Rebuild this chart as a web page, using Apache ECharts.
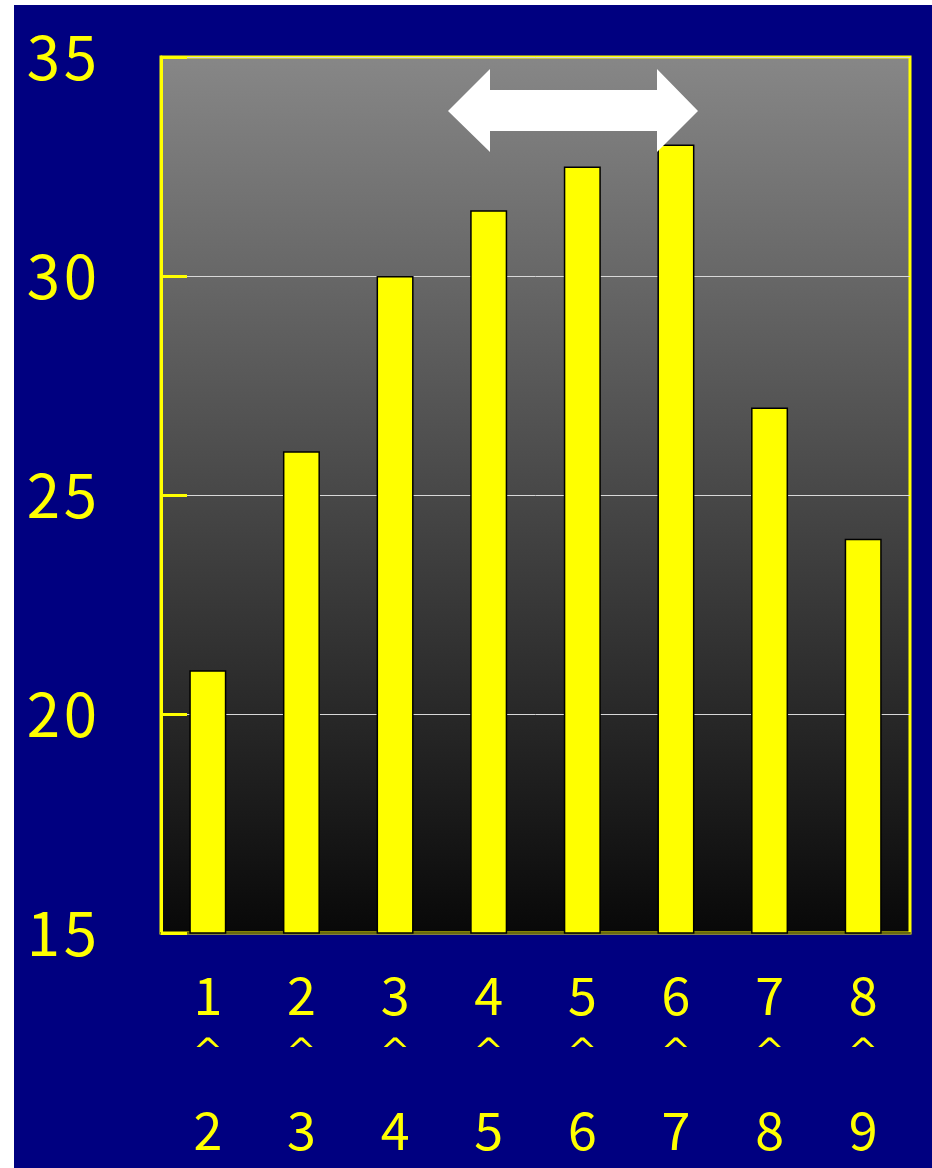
<!DOCTYPE html>
<html>
<head>
<meta charset="utf-8">
<script src="https://cdn.jsdelivr.net/npm/echarts@6/dist/echarts.min.js"></script>
<style>
  html, body { margin: 0; padding: 0; background: #ffffff; }
  #chart { position: absolute; left: 14px; top: 5px; width: 918px; height: 1163px; }
</style>
</head>
<body>
<div id="chart"></div>
<script>
// Period labels: each bar covers "from" ~ "to"
const rangeStart = ['1', '2', '3', '4', '5', '6', '7', '8'];
const rangeEnd = ['2', '3', '4', '5', '6', '7', '8', '9'];
const categories = rangeStart.map((s, i) => s + '|' + rangeEnd[i]);
const values = [21.0, 26.0, 30.0, 31.5, 32.5, 33.0, 27.0, 24.0];
const yTicks = [15, 20, 25, 30, 35];

const YELLOW = '#ffff00';
const FONT = '"Noto Sans CJK JP", "Noto Sans", sans-serif';

const chart = echarts.init(document.getElementById('chart'));

chart.setOption({
  backgroundColor: '#000080',
  animation: false,
  grid: {
    left: 147, right: 22, top: 52, bottom: 235,
    show: true,
    borderColor: YELLOW,
    borderWidth: 3,
    backgroundColor: new echarts.graphic.LinearGradient(0, 0, 0, 1, [
      { offset: 0, color: '#878787' },
      { offset: 1, color: '#080808' }
    ])
  },
  xAxis: {
    type: 'category',
    data: categories,
    boundaryGap: true,
    axisLine: { lineStyle: { color: '#6a6a10', width: 2 } },
    axisTick: { inside: true, length: 18, lineStyle: { color: '#1a1a1a', width: 1 } },
    axisLabel: {
      margin: 40,
      interval: 0,
      formatter: v => {
        const [a, b] = v.split('|');
        return '{n|' + a + '}\n{c|^}\n{n|' + b + '}';
      },
      rich: {
        n: { fontSize: 52, lineHeight: 45, color: YELLOW, fontFamily: FONT },
        c: { fontSize: 36, lineHeight: 90, color: YELLOW, fontFamily: '"DejaVu Sans", sans-serif', padding: [0, 0, 18, 0] }
      }
    }
  },
  yAxis: {
    type: 'value',
    min: yTicks[0],
    max: yTicks[yTicks.length - 1],
    interval: 5,
    axisLine: { show: true, lineStyle: { color: YELLOW, width: 3 } },
    axisTick: { show: true, inside: true, length: 26, lineStyle: { color: YELLOW, width: 3 } },
    splitLine: { show: true, lineStyle: { color: '#d8d8d8', width: 1 } },
    axisLabel: {
      margin: 64,
      color: YELLOW,
      fontSize: 60,
      fontFamily: FONT,
      padding: [22, 0, 0, 0],
      formatter: v => String(v).split('').join('\u200A')
    }
  },
  series: [{
    type: 'bar',
    data: values,
    barWidth: 37,
    itemStyle: { color: YELLOW, borderColor: '#000000', borderWidth: 1.5 }
  }],
  graphic: [{
    type: 'polygon',
    z: 100,
    shape: {
      points: [
        [434, 106], [476, 64], [476, 85], [643, 85], [643, 64],
        [684, 106], [643, 147], [643, 126], [476, 126], [476, 147]
      ]
    },
    style: { fill: '#ffffff' }
  }]
});
</script>
</body>
</html>
